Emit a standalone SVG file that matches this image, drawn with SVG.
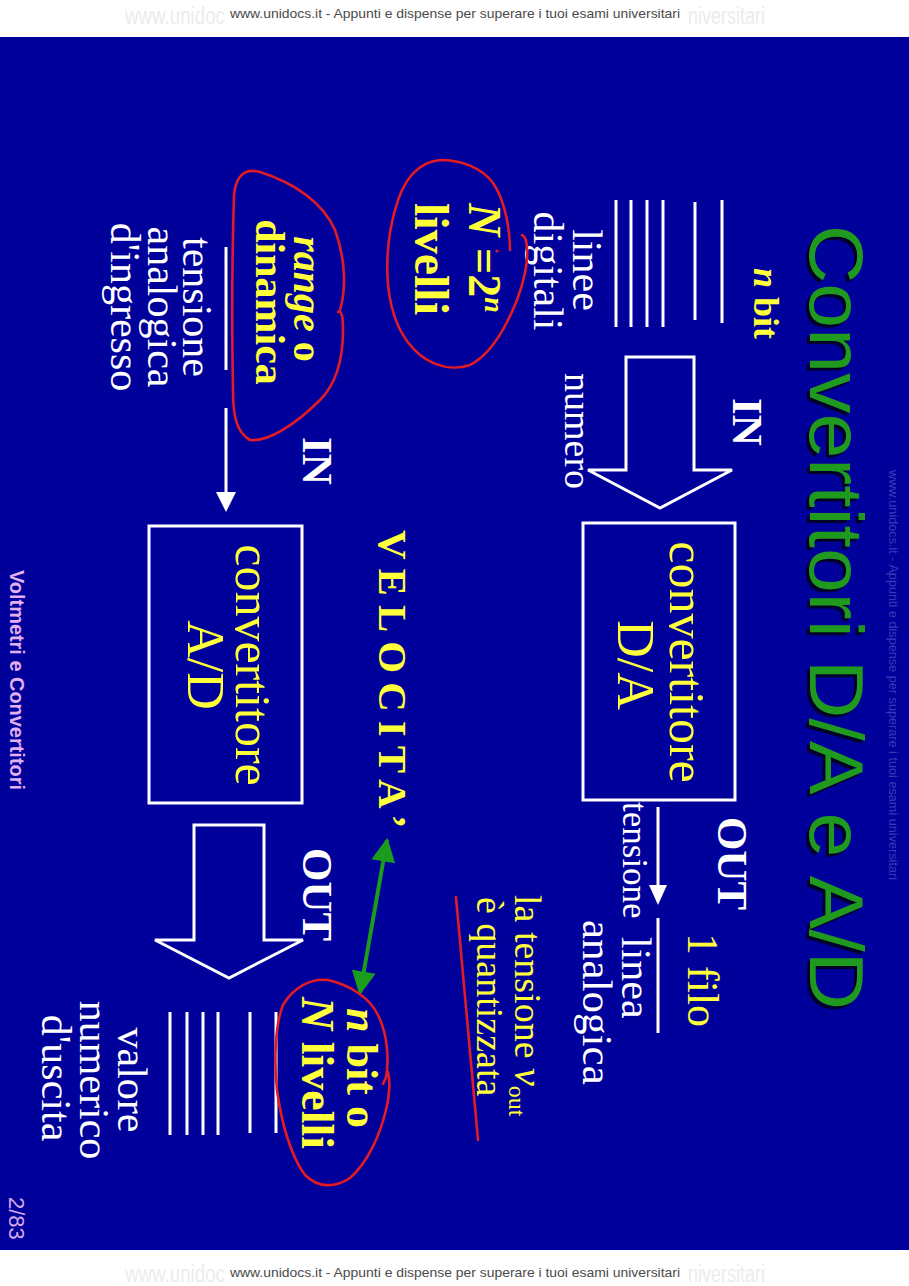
<svg xmlns="http://www.w3.org/2000/svg" width="909" height="1286" viewBox="0 0 909 1286">
<defs>
<style>
.t{font-family:"Liberation Serif","Times New Roman",serif;}
.s{font-family:"Liberation Sans",Arial,sans-serif;}
.w{fill:#ffffff;}
.y{fill:#ffff3a;}
.b{font-weight:bold;}
.ln{stroke:#ffffff;stroke-width:3;fill:none;}
.red{stroke:#e31b23;stroke-width:2.6;fill:none;stroke-linecap:round;stroke-linejoin:round;}
.box{fill:none;stroke:#ffffff;stroke-width:3;}
.wmf{font-family:"Liberation Sans",Arial,sans-serif;font-size:23px;fill:#ececec;}
.wmd{font-family:"Liberation Sans",Arial,sans-serif;font-size:13px;fill:#4a4a4a;}
</style>
<marker id="gh" viewBox="0 0 10 10" refX="9" refY="5" markerWidth="6.5" markerHeight="6" orient="auto-start-reverse" markerUnits="strokeWidth">
<path d="M0,0 L10,5 L0,10 z" fill="#1c9c1c"/>
</marker>
</defs>
<rect x="0" y="0" width="909" height="1286" fill="#ffffff"/>
<rect x="0" y="37" width="909" height="1213" fill="#00009a"/>

<g id="watermarks">
<text class="wmf" x="125" y="24" textLength="100" lengthAdjust="spacingAndGlyphs">www.unidoc</text>
<text class="wmf" x="688" y="24" textLength="77" lengthAdjust="spacingAndGlyphs">niversitari</text>
<text class="wmd" x="230" y="18" textLength="450" lengthAdjust="spacingAndGlyphs">www.unidocs.it - Appunti e dispense per superare i tuoi esami universitari</text>
<text class="wmf" x="125" y="1282" textLength="100" lengthAdjust="spacingAndGlyphs">www.unidoc</text>
<text class="wmf" x="688" y="1282" textLength="77" lengthAdjust="spacingAndGlyphs">niversitari</text>
<text class="wmd" x="230" y="1277" textLength="450" lengthAdjust="spacingAndGlyphs">www.unidocs.it - Appunti e dispense per superare i tuoi esami universitari</text>
<text class="s" transform="translate(889,470) rotate(90)" font-size="13" textLength="410" lengthAdjust="spacingAndGlyphs" fill="#3a3ab8">www.unidocs.it - Appunti e dispense per superare i tuoi esami universitari</text>
</g>

<g id="title">
<text class="s" transform="translate(807,228) rotate(90)" font-size="76" textLength="785" lengthAdjust="spacingAndGlyphs" fill="#00002a">Convertitori D/A e A/D</text>
<text class="s" transform="translate(810,225) rotate(90)" font-size="76" textLength="785" lengthAdjust="spacingAndGlyphs" fill="#1f9a1f">Convertitori D/A e A/D</text>
</g>

<g id="da-input">
<text class="t y b" transform="translate(754,268) rotate(90)" font-size="36"><tspan font-style="italic">n</tspan> bit</text>
<g id="da-input-lines">
<line class="ln" x1="616" y1="200" x2="616" y2="327"/>
<line class="ln" x1="631" y1="200" x2="631" y2="327"/>
<line class="ln" x1="647" y1="200" x2="647" y2="327"/>
<line class="ln" x1="663" y1="200" x2="663" y2="327"/>
<line class="ln" x1="695" y1="202" x2="695" y2="320"/>
<line class="ln" x1="722" y1="200" x2="722" y2="323"/>
</g>
<text class="t w" transform="translate(573,270) rotate(90)" font-size="42" text-anchor="middle">linee</text>
<text class="t w" transform="translate(534,271) rotate(90)" font-size="42" text-anchor="middle">digitali</text>
<text class="t w b" transform="translate(733,398) rotate(90)" font-size="43">IN</text>
<text class="t w" transform="translate(565,373) rotate(90)" font-size="38">numero</text>
</g>

<g id="levels-da">
<text class="t y b" transform="translate(469,258) rotate(90)" font-size="46" text-anchor="middle"><tspan font-style="italic">N</tspan> =2<tspan font-style="italic" font-size="28" dy="-16">n</tspan></text>
<text class="t y b" transform="translate(415,259) rotate(90)" font-size="48" text-anchor="middle">livelli</text>
</g>

<g id="da-box">
<rect class="box" x="583" y="523" width="152" height="277"/>
<text class="t y" transform="translate(670,662) rotate(90)" font-size="50" text-anchor="middle">convertitore</text>
<text class="t y" transform="translate(618,665) rotate(90)" font-size="52" text-anchor="middle">D/A</text>
</g>

<g id="da-output">
<text class="t w b" transform="translate(718,817) rotate(90)" font-size="43">OUT</text>
<text class="t y" transform="translate(688,933) rotate(90)" font-size="44">1 filo</text>
<text class="t w" transform="translate(623,802) rotate(90)" font-size="35">tensione</text>
<text class="t w" transform="translate(622,937) rotate(90)" font-size="42">linea</text>
<text class="t w" transform="translate(583,920) rotate(90)" font-size="43">analogica</text>
<text class="t y" transform="translate(515,895) rotate(90)" font-size="38">la tensione <tspan font-style="italic" font-size="40">v</tspan><tspan font-size="24" dy="6">out</tspan></text>
<text class="t y" transform="translate(477,897) rotate(90)" font-size="38">è quantizzata</text>
</g>

<g id="velocita">
<text class="t y b" transform="translate(379,530) rotate(90)" font-size="41" letter-spacing="9">VELOCITA’</text>
</g>

<g id="ad-input">
<text class="t w b" transform="translate(303,437) rotate(90)" font-size="43">IN</text>
<text class="t y b" transform="translate(294,299) rotate(90)" font-size="40" text-anchor="middle"><tspan font-style="italic">range</tspan> o</text>
<text class="t y b" transform="translate(256,302) rotate(90)" font-size="42" text-anchor="middle">dinamica</text>
<text class="t w" transform="translate(183,307) rotate(90)" font-size="42" text-anchor="middle">tensione</text>
<text class="t w" transform="translate(148,307) rotate(90)" font-size="42" text-anchor="middle">analogica</text>
<text class="t w" transform="translate(111,307) rotate(90)" font-size="42" text-anchor="middle">d'ingresso</text>
</g>

<g id="ad-box">
<rect class="box" x="149" y="526" width="153" height="277"/>
<text class="t y" transform="translate(236,665) rotate(90)" font-size="50" text-anchor="middle">convertitore</text>
<text class="t y" transform="translate(188,665) rotate(90)" font-size="52" text-anchor="middle">A/D</text>
</g>

<g id="ad-output">
<text class="t w b" transform="translate(303,848) rotate(90)" font-size="43">OUT</text>
<g id="ad-output-lines">
<line class="ln" x1="170" y1="1012" x2="170" y2="1135"/>
<line class="ln" x1="187" y1="1012" x2="187" y2="1135"/>
<line class="ln" x1="203" y1="1012" x2="203" y2="1135"/>
<line class="ln" x1="218" y1="1012" x2="218" y2="1135"/>
<line class="ln" x1="250" y1="1012" x2="250" y2="1133"/>
<line class="ln" x1="276" y1="1012" x2="276" y2="1133"/>
</g>
<text class="t y b" transform="translate(347,1068) rotate(90)" font-size="44" text-anchor="middle"><tspan font-style="italic">n</tspan> bit o</text>
<text class="t y b" transform="translate(302,1073) rotate(90)" font-size="46" text-anchor="middle"><tspan font-style="italic">N</tspan> livelli</text>
<text class="t w" transform="translate(118,1080) rotate(90)" font-size="42" text-anchor="middle">valore</text>
<text class="t w" transform="translate(80,1080) rotate(90)" font-size="42" text-anchor="middle">numerico</text>
<text class="t w" transform="translate(42,1078) rotate(90)" font-size="42" text-anchor="middle">d'uscita</text>
</g>

<g id="footer">
<text class="s b" transform="translate(10,570) rotate(90)" font-size="20" textLength="220" lengthAdjust="spacingAndGlyphs" fill="#e2b0f0">Voltmetri e Convertitori</text>
<text class="s" transform="translate(9,1197) rotate(90)" font-size="22" fill="#d8a8ea">2/83</text>
</g>

<g id="connectors">
<polygon class="box" points="626,357 694,357 694,470 732,470 660,508 588,470 626,470"/>
<line class="ln" x1="658" y1="807" x2="658" y2="888"/>
<polygon points="649,885 667,885 658,905" fill="#ffffff"/>
<line class="ln" x1="658" y1="918" x2="658" y2="1033"/>
<line class="ln" x1="226" y1="247" x2="226" y2="370"/>
<line class="ln" x1="226" y1="408" x2="226" y2="494"/>
<polygon points="216,492 236,492 226,512" fill="#ffffff"/>
<polygon class="box" points="194,825 264,825 264,940 303,940 229,978 155,940 194,940"/>
<line x1="387" y1="840" x2="360" y2="993" stroke="#1c9c1c" stroke-width="4" marker-start="url(#gh)" marker-end="url(#gh)"/>
</g>

<g id="annotations">
<path class="red" d="M510,250 C510,230 505,200 493,183 C482,168 462,160 440,160 C418,162 403,180 395,210 C388,235 386,260 388,285 C391,315 402,340 420,355 C437,368 455,370 470,365 C490,355 505,330 517,300 C524,282 528,262 527,250 C527,242 525,236 522,235"/>
<circle cx="497" cy="251" r="1.6" fill="#e31b23"/>
<path class="red" d="M340,310 C346,290 346,260 335,230 C323,203 295,183 260,172 C245,168 236,175 234,195 C232,260 232,340 233,390 C233,415 236,432 250,440 C268,442 295,425 320,400 C335,385 343,360 343,330 C343,318 342,310 338,312"/>
<path class="red" d="M386,1078 C389,1060 388,1035 378,1015 C370,998 350,985 328,980 C310,978 293,988 283,1005 C275,1025 274,1060 277,1090 C281,1120 290,1155 305,1175 C318,1188 335,1188 350,1178 C368,1162 380,1135 386,1110 C390,1095 390,1080 388,1072 C387,1075 385,1080 383,1084"/>
<path class="red" d="M456,897 C462,960 470,1050 478,1140"/>
</g>
</svg>
